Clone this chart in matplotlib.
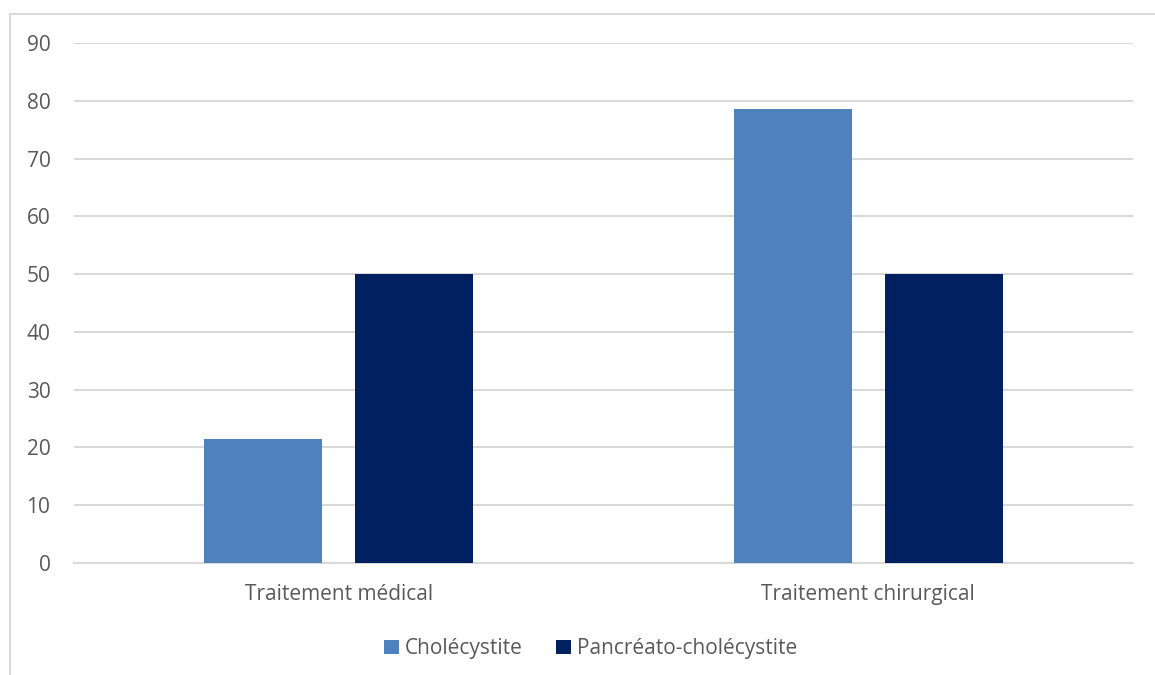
import matplotlib.pyplot as plt
import numpy as np
from matplotlib.patches import Rectangle

categories = ['Traitement médical', 'Traitement chirurgical']
series_names = ['Cholécystite', 'Pancréato-cholécystite']
cholecystite = [21.4, 78.6]
pancreato = [50, 50]
y_ticks = [0, 10, 20, 30, 40, 50, 60, 70, 80, 90]

colors = ['#4F81BD', '#002060']
text_color = '#595959'
grid_color = '#D9D9D9'

plt.rcParams['font.family'] = ['Open Sans', 'DejaVu Sans']

fig = plt.figure(figsize=(11.55, 6.75), dpi=100)
ax = fig.add_axes([0.0641, 0.1659, 0.9169, 0.7704])

x = np.arange(len(categories))
width = 0.223
offset = (width + 0.062) / 2
ax.bar(x - offset, cholecystite, width, color=colors[0], label=series_names[0], zorder=3)
ax.bar(x + offset, pancreato, width, color=colors[1], label=series_names[1], zorder=3)

ax.set_xlim(-0.5, 1.5)
ax.set_ylim(0, 90)
ax.set_yticks(y_ticks)
ax.set_xticks(x)
ax.set_xticklabels(categories)
ax.grid(axis='y', color=grid_color, linewidth=1.5, zorder=0)
for side in ['top', 'right', 'left']:
    ax.spines[side].set_visible(False)
ax.spines['bottom'].set_color(grid_color)
ax.spines['bottom'].set_linewidth(1.5)
ax.tick_params(axis='both', length=0, colors=text_color, labelsize=15)
ax.tick_params(axis='y', pad=17)
ax.tick_params(axis='x', pad=15)

leg = ax.legend(loc='center', bbox_to_anchor=(0.4877, -0.165), ncol=2, frameon=False,
                fontsize=15, handlelength=0.7, handleheight=0.7, handletextpad=0.3,
                columnspacing=1.6)
for t in leg.get_texts():
    t.set_color(text_color)

# chart area border (only left and top edges fall inside the canvas)
fig.patches.append(Rectangle((10 / 1155, -0.1), 1.2, 1.1 - 14 / 675, transform=fig.transFigure,
                             fill=False, edgecolor=grid_color, linewidth=1.5))

fig.savefig('out.png', dpi=100)
